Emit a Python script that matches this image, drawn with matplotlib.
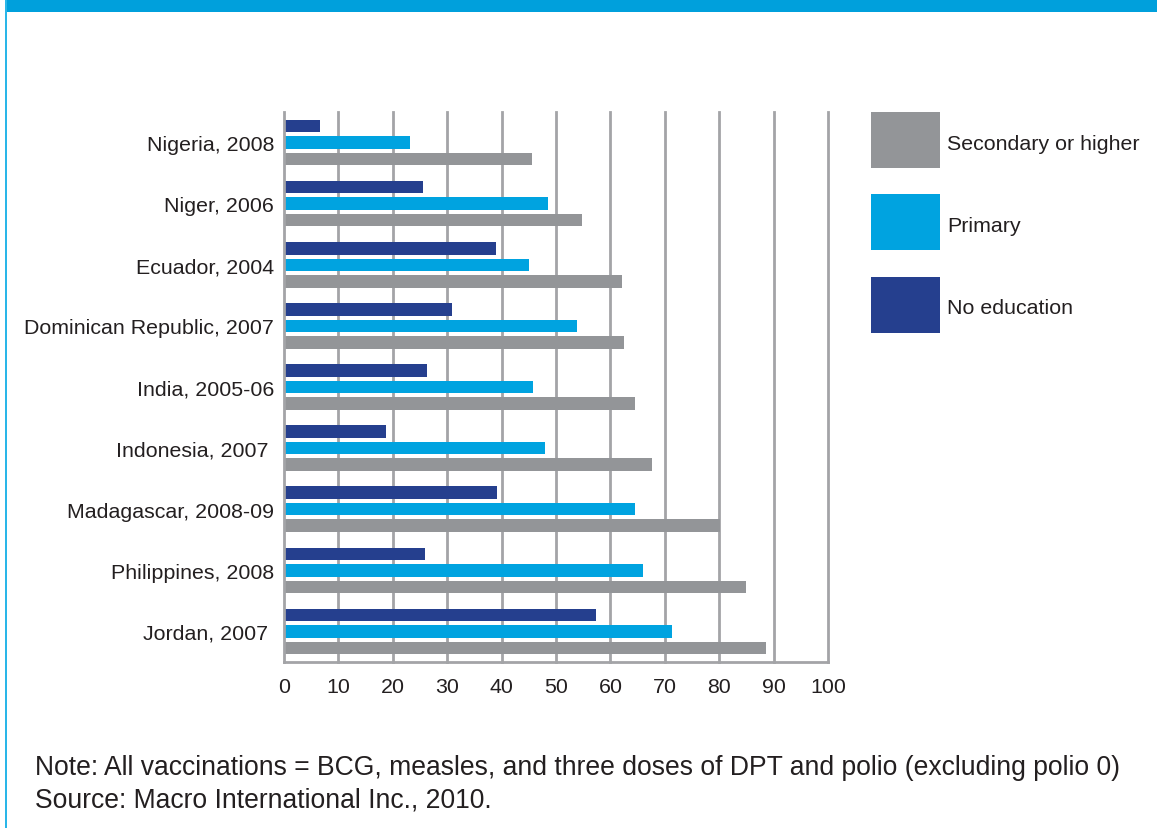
import matplotlib.pyplot as plt
from matplotlib.patches import Rectangle

plt.rcParams['font.family'] = ['Liberation Sans', 'DejaVu Sans']

countries = ["Nigeria, 2008", "Niger, 2006", "Ecuador, 2004", "Dominican Republic, 2007",
             "India, 2005-06", "Indonesia, 2007 ", "Madagascar, 2008-09", "Philippines, 2008",
             "Jordan, 2007 "]
no_education = [6.6, 25.6, 39.0, 30.9, 26.3, 18.8, 39.2, 25.9, 57.3]
primary = [23.2, 48.6, 45.1, 53.9, 45.8, 48.0, 64.6, 66.0, 71.4]
secondary = [45.5, 54.7, 62.1, 62.5, 64.5, 67.6, 80.1, 85.0, 88.6]
legend_labels = ["Secondary or higher", "Primary", "No education"]

c_none = '#253f8e'
c_prim = '#00a3e0'
c_sec = '#939598'
grid_c = '#a3a4a7'
txt_c = '#231f20'

W, H = 1157, 829
fig = plt.figure(figsize=(W / 100, H / 100), dpi=100)

# frame: blue band on top and thin line on the left
fig.add_artist(Rectangle((6 / W, 1 - 13 / H), 1, 13 / H, transform=fig.transFigure,
                         color='#00a0dc', lw=0))
fig.add_artist(Rectangle((5 / W, 0), 2 / W, 1, transform=fig.transFigure,
                         color='#2ab6e8', lw=0))

ax = fig.add_axes([284 / W, 1 - 663 / H, (828 - 284) / W, (663 - 113) / H])

ypos = list(range(len(countries)))
h = 0.205
off = 0.27
ax.barh([y - off for y in ypos], no_education, height=h, color=c_none, zorder=3)
ax.barh(ypos, primary, height=h, color=c_prim, zorder=3)
ax.barh([y + off for y in ypos], secondary, height=h, color=c_sec, zorder=3)

ax.set_xlim(0, 100)
ax.set_ylim(len(countries) - 0.5, -0.5)
ax.set_xticks(range(0, 101, 10))
ax.set_yticks(ypos)
ax.set_yticklabels(countries)
ax.tick_params(axis='both', length=0, labelsize=15.4, colors=txt_c)
ax.tick_params(axis='x', pad=11)
ax.tick_params(axis='y', pad=7)
for x in range(10, 101, 10):
    ax.axvline(x, color=grid_c, lw=2, zorder=1, clip_on=False)
for s in ['top', 'right']:
    ax.spines[s].set_visible(False)
for s in ['left', 'bottom']:
    ax.spines[s].set_color(grid_c)
    ax.spines[s].set_linewidth(2)
    ax.spines[s].set_zorder(4)

# legend boxes on the right
boxes = [(113, c_sec), (195, c_prim), (278, c_none)]
for (top, col), lab in zip(boxes, legend_labels):
    fig.add_artist(Rectangle((871 / W, 1 - (top + 56) / H), 69 / W, 56 / H,
                             transform=fig.transFigure, color=col, lw=0))
    fig.text(947 / W, 1 - (top + 31) / H, lab, fontsize=15.4, color=txt_c,
             va='center', ha='left')

fig.text(35 / W, 1 - 768 / H,
         "Note: All vaccinations = BCG, measles, and three doses of DPT and polio (excluding polio 0)",
         fontsize=19.1, color=txt_c, va='center')
fig.text(35 / W, 1 - 801 / H, "Source: Macro International Inc., 2010.",
         fontsize=19.1, color=txt_c, va='center')

fig.savefig('out.png', dpi=100)
